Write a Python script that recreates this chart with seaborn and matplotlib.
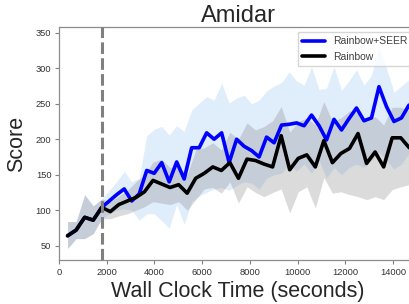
import numpy as np
import pandas as pd
import seaborn as sns
import matplotlib.pyplot as plt

# Rainbow: one evaluation roughly every 358 s of wall clock
rainbow_score = [64, 72, 90, 86, 104, 98, 108, 113, 118, 126, 142, 137, 132, 136, 124,
                 145, 152, 161, 156, 167, 145, 172, 170, 165, 161, 205, 157, 173, 178, 161,
                 198, 167, 180, 187, 208, 166, 182, 161, 202, 202, 188]
rainbow_low = [46, 60, 60, 67, 88, 88, 92, 95, 100, 105, 112, 110, 108, 112, 100,
               115, 130, 132, 124, 140, 110, 133, 125, 119, 125, 130, 96, 126, 133, 103,
               146, 124, 126, 122, 119, 115, 119, 115, 129, 133, 136]
rainbow_high = [84, 84, 122, 106, 116, 112, 120, 128, 140, 150, 168, 172, 160, 162, 150,
                185, 188, 195, 185, 210, 200, 223, 213, 218, 226, 246, 210, 225, 230, 220,
                253, 225, 230, 240, 237, 225, 232, 220, 245, 245, 240]

# Rainbow+SEER: identical to Rainbow until the encoder is frozen, then faster steps
seer_score = [64, 72, 90, 86, 104,
              113, 122, 130, 113, 123, 156, 152, 167, 140, 168, 144, 188, 188, 209, 200,
              209, 167, 200, 190, 184, 175, 203, 195, 220, 221, 223, 219, 234, 219, 199,
              228, 213, 229, 244, 226, 230, 274, 246, 225, 230, 248]
seer_low = [46, 60, 60, 67, 88,
            95, 100, 102, 100, 86, 95, 95, 85, 75, 108, 80, 112, 120, 125, 130,
            132, 128, 135, 140, 138, 130, 145, 150, 152, 165, 155, 165, 152, 170, 145,
            160, 150, 160, 165, 160, 170, 182, 170, 158, 165, 180]
seer_high = [84, 84, 122, 106, 116,
             128, 140, 155, 140, 145, 205, 214, 218, 206, 219, 211, 241, 251, 260, 255,
             279, 251, 258, 262, 250, 255, 268, 275, 280, 295, 282, 276, 302, 270, 272,
             302, 269, 282, 298, 276, 290, 330, 300, 266, 275, 284]

freeze_time = 1800
rainbow_time = 358 * np.arange(1, 42)
seer_time = np.concatenate([rainbow_time[:5], rainbow_time[4] + 314 * np.arange(1, 42)])

rainbow = pd.DataFrame({"time": rainbow_time, "score": rainbow_score,
                        "low": rainbow_low, "high": rainbow_high})
seer = pd.DataFrame({"time": seer_time, "score": seer_score,
                     "low": seer_low, "high": seer_high})

sns.set_style("ticks")
plt.rcParams["font.family"] = ["Liberation Sans", "DejaVu Sans"]
plt.rcParams["axes.edgecolor"] = "0.55"
plt.rcParams["axes.linewidth"] = 0.9
plt.rcParams["xtick.color"] = "0.5"
plt.rcParams["ytick.color"] = "0.5"
plt.rcParams["xtick.labelcolor"] = "0.2"
plt.rcParams["ytick.labelcolor"] = "0.2"

fig = plt.figure(figsize=(4.1, 3.04), dpi=100)
ax = fig.add_axes([0.144, 0.145, 0.873, 0.766])

ax.fill_between(seer["time"], seer["low"], seer["high"], color="#a8cdf5", alpha=0.35,
                linewidth=0, zorder=1)
ax.fill_between(rainbow["time"], rainbow["low"], rainbow["high"], color="gray", alpha=0.28,
                linewidth=0, zorder=2)

sns.lineplot(data=seer, x="time", y="score", color="blue", linewidth=2.6,
             label="Rainbow+SEER", ax=ax, zorder=3)
sns.lineplot(data=rainbow, x="time", y="score", color="black", linewidth=2.6,
             label="Rainbow", ax=ax, zorder=4)

ax.axvline(freeze_time, color="gray", linestyle=(0, (3.8, 1.4)), linewidth=2.2, zorder=5)

ax.set_xlim(0, 15000)
ax.set_ylim(30, 358)
ax.set_xticks([0, 2000, 4000, 6000, 8000, 10000, 12000, 14000])
ax.set_yticks([50, 100, 150, 200, 250, 300, 350])
ax.tick_params(axis="both", labelsize=6.7, length=3, width=0.8, pad=2.5)

ax.set_title("Amidar", fontsize=17, pad=4)
ax.set_xlabel("Wall Clock Time (seconds)", fontsize=15.5, labelpad=3)
ax.set_ylabel("Score", fontsize=15.5, labelpad=6)

leg = ax.legend(loc="upper right", fontsize=7.5, handlelength=2.2, frameon=True,
                fancybox=False, borderaxespad=0.5)
leg.get_frame().set_edgecolor("0.8")
for line in leg.get_lines():
    line.set_linewidth(2.6)
for text in leg.get_texts():
    text.set_color("0.25")

fig.savefig("out.png", dpi=100)
